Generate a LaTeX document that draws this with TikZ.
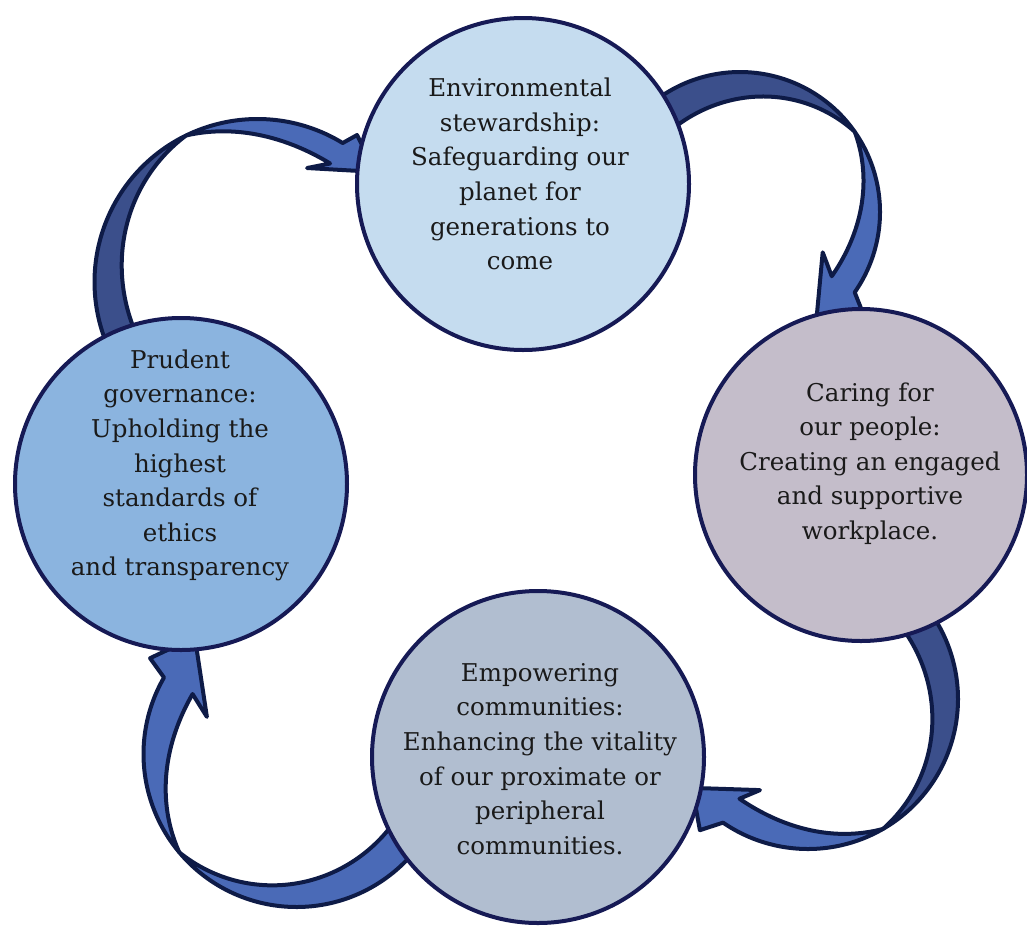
\documentclass[tikz,border=0pt]{standalone}
\usepackage{fontspec}
\setmainfont{DejaVu Serif}
\definecolor{circline}{HTML}{161A55}
\definecolor{arrline}{HTML}{0E1B47}
\definecolor{darkb}{HTML}{3B4F8B}
\definecolor{lightb}{HTML}{4A6AB7}
\definecolor{ftop}{HTML}{C5DCEF}
\definecolor{fright}{HTML}{C4BDCA}
\definecolor{fbottom}{HTML}{B1BED0}
\definecolor{fleft}{HTML}{8BB4DF}
\definecolor{txt}{HTML}{1A1A1A}
% ribbon parameters: \acx \acy centre, \aR outer radius, \aT tail angle, \aX pinch angle, \aE head angle, \wT tail width, \wE head width
\newcommand{\tailpart}[1]{%
  \filldraw[band, fill=#1]
    plot[domain=\aT:\aX, samples=80] ({\acx+\aR*cos(\x)},{\acy-\aR*sin(\x)})
    -- plot[domain=\aX:\aT, samples=80]
      ({\acx+(\aR-\wT*sin(90*(\x-\aX)/(\aT-\aX)))*cos(\x)},
       {\acy-(\aR-\wT*sin(90*(\x-\aX)/(\aT-\aX)))*sin(\x)})
    -- cycle;}
\newcommand{\headpart}[4]{% #1 colour, #2 barb outer, #3 tip, #4 barb inner
  \filldraw[band, fill=#1]
    plot[domain=\aX:\aE, samples=80] ({\acx+\aR*cos(\x)},{\acy-\aR*sin(\x)})
    -- (#2) -- (#3) -- (#4)
    -- plot[domain=\aE:\aX, samples=80]
      ({\acx+(\aR-\wE*sin(90*(\x-\aX)/(\aE-\aX)))*cos(\x)},
       {\acy-(\aR-\wE*sin(90*(\x-\aX)/(\aE-\aX)))*sin(\x)})
    -- cycle;}
\newcommand{\polarpt}[3]{\coordinate (#1) at ({\acx+#3*cos(#2)},{\acy-#3*sin(#2)});}
\begin{document}
\begin{tikzpicture}[x=1pt,y=-1pt,
  circ/.style={circle, draw=circline, line width=4pt, minimum size=332pt, inner sep=0pt},
  lbl/.style={align=center, text=txt, font=\fontsize{24.5}{34.6}\selectfont, inner sep=0pt},
  band/.style={draw=arrline, line width=4pt, line join=round}]
\useasboundingbox (0,0) rectangle (1027,929);

% Arrow A: top -> right
\def\acx{740}\def\acy{212}\def\aR{140}\def\aT{128}\def\aX{35}\def\aE{-35}\def\wT{33}\def\wE{28}
\polarpt{Abo}{-39}{157}\polarpt{Atip}{-55}{133}\polarpt{Abi}{-26}{92}
\tailpart{darkb}
\headpart{lightb}{Abo}{Atip}{Abi}

% Arrow B: right -> bottom
\def\acx{808}\def\acy{699}\def\aR{150}\def\aT{34}\def\aX{-60}\def\aE{-124.5}\def\wT{32}\def\wE{29}
\polarpt{Bbo}{-129.5}{170}\polarpt{Btip}{-142.5}{146}\polarpt{Bbi}{-117.8}{103}
\tailpart{darkb}
\headpart{lightb}{Bbo}{Btip}{Bbi}

% Arrow C: bottom -> left
\def\acx{296.5}\def\acy{754}\def\aR{153}\def\aT{-38}\def\aX{-140}\def\aE{-210}\def\wT{34}\def\wE{33}
\polarpt{Cbo}{-213.2}{175}\polarpt{Ctip}{-229}{155}\polarpt{Cbi}{-202.5}{97}
\tailpart{lightb}
\headpart{lightb}{Cbo}{Ctip}{Cbi}

% Arrow D: left -> top
\def\acx{257.5}\def\acy{282}\def\aR{163}\def\aT{205}\def\aX{116}\def\aE{58.5}\def\wT{31}\def\wE{24}
\polarpt{Dbo}{55.9}{177.5}\polarpt{Dtip}{42.9}{161.7}\polarpt{Dbi}{66.5}{124.3}
\tailpart{darkb}
\headpart{lightb}{Dbo}{Dtip}{Dbi}

% Circles
\node[circ, fill=ftop] (top) at (523,184) {};
\node[circ, fill=fright] (right) at (861,475) {};
\node[circ, fill=fbottom] (bottom) at (538,757) {};
\node[circ, fill=fleft] (left) at (181,484) {};

% Labels
\node[lbl] (ttop) at (520,174) {Environmental\\stewardship:\\Safeguarding our\\planet for\\generations to\\come};
\node[lbl] (tright) at (870,463.5) {Caring for\\our people:\\Creating an engaged\\and supportive\\workplace.};
\node[lbl] (tbottom) at (540,759) {Empowering\\communities:\\Enhancing the vitality\\of our proximate or\\peripheral\\communities.};
\node[lbl] (tleft) at (180,465.5) {Prudent\\governance:\\Upholding the\\highest\\standards of\\ethics\\and transparency};
\end{tikzpicture}
\end{document}
